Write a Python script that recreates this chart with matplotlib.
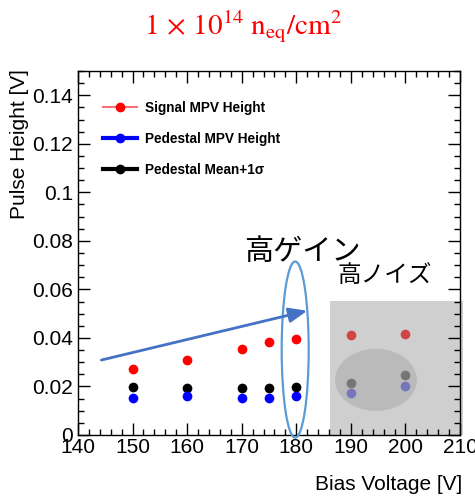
import matplotlib
matplotlib.use("Agg")
import matplotlib.pyplot as plt
from matplotlib.patches import Rectangle, Ellipse
from matplotlib.lines import Line2D
from matplotlib.ticker import MultipleLocator

# ---- data ----
voltages = [150, 160, 170, 175, 180, 190, 200]
signal_mpv = [0.0271, 0.0309, 0.0353, 0.0382, 0.0395, 0.0411, 0.0415]
pedestal_mpv = [0.0154, 0.0160, 0.0154, 0.0154, 0.0161, 0.0172, 0.0201]
pedestal_mean1s = [0.0198, 0.0193, 0.0193, 0.0193, 0.0197, 0.0213, 0.0246]
series_labels = ["Signal MPV Height", "Pedestal MPV Height", "Pedestal Mean+1\u03c3"]
title_text = r"$1\,\times\,10^{14}\ \mathrm{n_{eq}/cm^{2}}$"
xlabel = "Bias Voltage [V]"
ylabel = "Pulse Height [V]"
note_gain = "高ゲイン"
note_noise = "高ノイズ"

plt.rcParams['font.family'] = ['Liberation Sans', 'DejaVu Sans']
plt.rcParams['mathtext.fontset'] = 'stix'

W, H = 475, 496
fig = plt.figure(figsize=(W / 100, H / 100), dpi=100)
ax = fig.add_axes([78 / W, 1 - 435 / H, (460 - 78) / W, (435 - 71) / H])
ax.set_axisbelow(False)

ms = 7
ax.plot(voltages, signal_mpv, 'o', color='#ff0000', ms=ms, mec='none', zorder=2)
ax.plot(voltages, pedestal_mean1s, 'o', color='#000000', ms=ms, mec='none', zorder=2)
ax.plot(voltages, pedestal_mpv, 'o', color='#0000ff', ms=ms, mec='none', zorder=2)

ax.set_xlim(140, 210)
ax.set_ylim(0, 0.15)
ax.xaxis.set_major_locator(MultipleLocator(10))
ax.xaxis.set_minor_locator(MultipleLocator(2))
ax.yaxis.set_minor_locator(MultipleLocator(0.005))
ax.set_yticks([0, 0.02, 0.04, 0.06, 0.08, 0.1, 0.12, 0.14])
ax.set_yticklabels(["0", "0.02", "0.04", "0.06", "0.08", "0.1", "0.12", "0.14"])
ax.tick_params(which='both', direction='in', top=True, right=True, width=1, labelsize=15)
ax.tick_params(which='major', length=8.5)
ax.tick_params(which='minor', length=4.3)
ax.tick_params(axis='y', pad=3.5)
ax.tick_params(axis='x', pad=2)
for s in ax.spines.values():
    s.set_linewidth(1)

# gray overlay regions
rect = Rectangle((186.2, 0), 24.3, 0.0553, facecolor=(152/255, 152/255, 152/255),
                 alpha=0.46, edgecolor='none', zorder=2.2, clip_on=False)
ax.add_patch(rect)
ell = Ellipse((194.6, 0.0227), 15.0, 0.0256, facecolor=(166/255, 166/255, 166/255),
              alpha=0.51, edgecolor='none', zorder=2.3)
ax.add_patch(ell)

# blue outline ellipse around 180 V
ell2 = Ellipse((179.8, 0.0352), 4.95, 0.0726, facecolor='none', edgecolor='#5b9bd5',
               lw=1.6, zorder=3, clip_on=False)
ax.add_patch(ell2)

# arrow
ax.annotate("", xy=(182.0, 0.0512), xytext=(144.3, 0.0309),
            arrowprops=dict(arrowstyle='-|>,head_length=1.1,head_width=0.45',
                            color='#4472c4', lw=2.0, shrinkA=0, shrinkB=0),
            zorder=3, annotation_clip=False)

# legend
handles = [
    Line2D([], [], color='#ff7070', lw=1.5, marker='o', ms=6, mfc='#ff0000', mec='#ff0000'),
    Line2D([], [], color='#0000ff', lw=3, marker='o', ms=6, mfc='#0000ff', mec='#0000ff'),
    Line2D([], [], color='#000000', lw=3, marker='o', ms=6, mfc='#000000', mec='#000000'),
]
leg = ax.legend(handles, series_labels, loc='upper left',
                bbox_to_anchor=(103 / W, 1 - 101 / H), bbox_transform=fig.transFigure,
                frameon=False, prop={'weight': 'bold', 'size': 9.8},
                handlelength=2.5, handletextpad=0.55, labelspacing=1.25,
                borderaxespad=0, borderpad=0)

# labels
fig.text(462 / W, 1 - 485 / H, xlabel, ha='right', va='center', fontsize=15)
fig.text(20 / W, 1 - 69 / H, ylabel, ha='center', va='top', rotation=90, fontsize=15)

# title
fig.text(243 / W, 1 - 27 / H, title_text, ha='center', va='center', fontsize=21, color='#ff0000')

# japanese notes
fig.text(302 / W, 1 - 252 / H, note_gain, ha='center', va='center', fontsize=21,
         family=['Noto Sans CJK JP', 'DejaVu Sans'])
fig.text(385 / W, 1 - 276 / H, note_noise, ha='center', va='center', fontsize=17,
         family=['Noto Sans CJK JP', 'DejaVu Sans'])

fig.savefig("out.png", dpi=100)
